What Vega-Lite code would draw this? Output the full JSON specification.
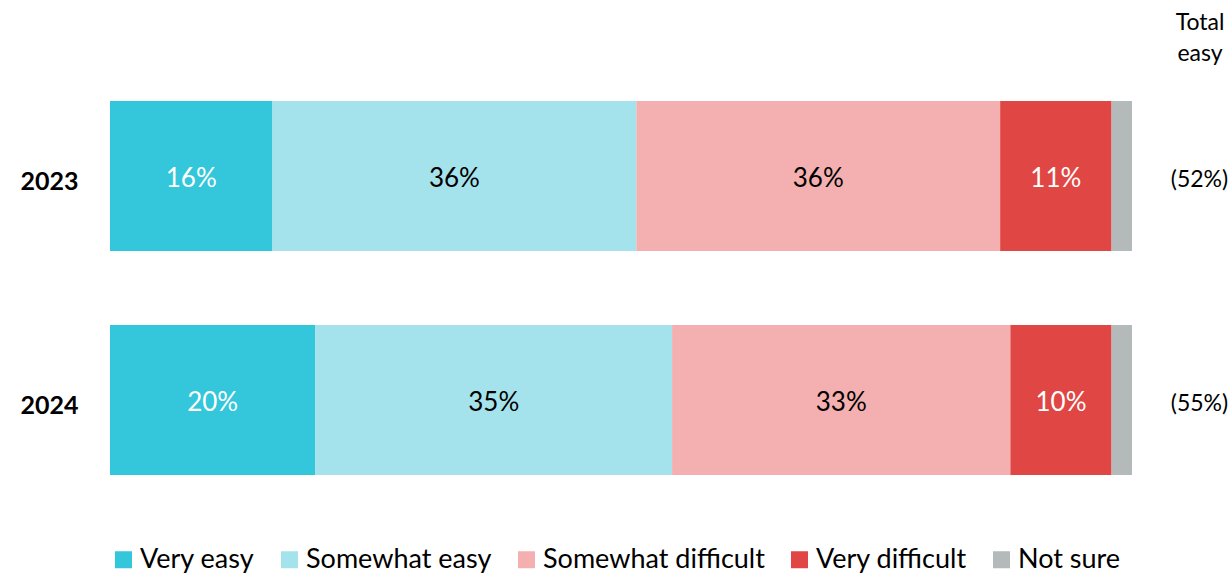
{
  "$schema": "https://vega.github.io/schema/vega-lite/v6.json",
  "autosize": {"type": "none"},
  "width": 1022,
  "height": 448,
  "padding": {"left": 110, "top": 64, "right": 100, "bottom": 64},
  "background": "white",
  "config": {
    "font": "Lato",
    "view": {"stroke": null},
    "text": {"font": "Lato"}
  },
  "title": {
    "text": ["Total", "easy"],
    "anchor": "end",
    "frame": "group",
    "align": "center",
    "dx": 68,
    "offset": -2,
    "fontSize": 23,
    "fontWeight": "normal",
    "lineHeight": 31,
    "color": "#000000"
  },
  "datasets": {
    "shares": [
      {"year": "2023", "category": "Very easy", "k": 1, "value": 0.159},
      {"year": "2023", "category": "Somewhat easy", "k": 2, "value": 0.356},
      {"year": "2023", "category": "Somewhat difficult", "k": 3, "value": 0.356},
      {"year": "2023", "category": "Very difficult", "k": 4, "value": 0.109},
      {"year": "2023", "category": "Not sure", "k": 5, "value": 0.020},
      {"year": "2024", "category": "Very easy", "k": 1, "value": 0.201},
      {"year": "2024", "category": "Somewhat easy", "k": 2, "value": 0.349},
      {"year": "2024", "category": "Somewhat difficult", "k": 3, "value": 0.331},
      {"year": "2024", "category": "Very difficult", "k": 4, "value": 0.099},
      {"year": "2024", "category": "Not sure", "k": 5, "value": 0.020}
    ],
    "totals": [
      {"year": "2023", "total": 0.52},
      {"year": "2024", "total": 0.55}
    ]
  },
  "encoding": {
    "y": {
      "field": "year",
      "type": "nominal",
      "scale": {"paddingInner": 0.33, "paddingOuter": 0.165},
      "axis": {
        "title": null,
        "domain": false,
        "ticks": false,
        "labelFontSize": 25,
        "labelFontWeight": "bold",
        "labelColor": "#000000",
        "labelPadding": 32,
        "labelOffset": 6
      }
    }
  },
  "layer": [
    {
      "data": {"name": "shares"},
      "transform": [
        {"stack": "value", "groupby": ["year"], "sort": [{"field": "k", "order": "ascending"}], "as": ["x0", "x1"]}
      ],
      "mark": {"type": "bar"},
      "encoding": {
        "x": {"field": "x0", "type": "quantitative", "scale": {"domain": [0, 1], "nice": false}, "axis": null},
        "x2": {"field": "x1"},
        "color": {
          "field": "category",
          "type": "nominal",
          "scale": {
            "domain": ["Very easy", "Somewhat easy", "Somewhat difficult", "Very difficult", "Not sure"],
            "range": ["#34C6DA", "#A5E3EC", "#F4B0B0", "#E04643", "#B3BAB9"]
          },
          "legend": {
            "title": null,
            "orient": "bottom",
            "direction": "horizontal",
            "offset": 34,
            "symbolType": "square",
            "symbolSize": 289,
            "symbolStrokeWidth": 0,
            "symbolOpacity": 1,
            "labelFontSize": 27,
            "labelColor": "#000000",
            "labelOffset": 3,
            "columnPadding": 21,
            "labelLimit": 400
          }
        }
      }
    },
    {
      "data": {"name": "shares"},
      "transform": [
        {"stack": "value", "groupby": ["year"], "sort": [{"field": "k", "order": "ascending"}], "as": ["x0", "x1"]},
        {"filter": "datum.category !== 'Not sure'"},
        {"calculate": "(datum.x0 + datum.x1) / 2", "as": "mid"}
      ],
      "mark": {"type": "text", "fontSize": 26, "baseline": "middle", "align": "center", "dy": 3},
      "encoding": {
        "x": {"field": "mid", "type": "quantitative"},
        "text": {"field": "value", "type": "quantitative", "format": ".0%"},
        "color": {
          "condition": {"test": "datum.category === 'Very easy' || datum.category === 'Very difficult'", "value": "#FFFFFF"},
          "value": "#000000"
        }
      }
    },
    {
      "data": {"name": "totals"},
      "transform": [
        {"calculate": "'(' + format(datum.total, '.0%') + ')'", "as": "label"}
      ],
      "mark": {"type": "text", "fontSize": 23, "baseline": "middle", "align": "center", "color": "#000000", "dy": 4},
      "encoding": {
        "x": {"datum": 1.066, "type": "quantitative"},
        "text": {"field": "label", "type": "nominal"}
      }
    }
  ]
}
